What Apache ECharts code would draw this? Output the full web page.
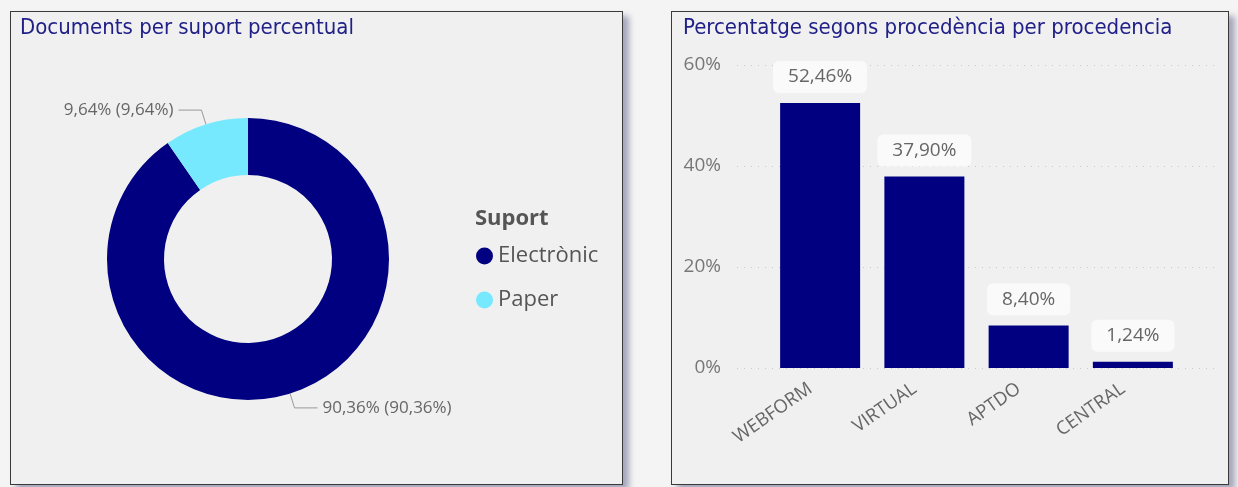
<!DOCTYPE html>
<html>
<head>
<meta charset="utf-8">
<script src="https://cdn.jsdelivr.net/npm/echarts@6/dist/echarts.min.js"></script>
<style>
  html, body { margin: 0; padding: 0; background: #f4f4f4; }
  body { width: 1238px; height: 487px; position: relative; overflow: hidden; }
  .panel { position: absolute; background: #f0f0f0; border: 1.5px solid #3a3a3a; box-sizing: border-box;
           box-shadow: 6px 5px 6px rgba(70, 70, 120, 0.45); }
  #chart { position: absolute; left: 0; top: 0; width: 1238px; height: 487px; }
</style>
</head>
<body>
<div class="panel" style="left:10px; top:11px; width:613px; height:474px;"></div>
<div class="panel" style="left:671px; top:11px; width:558px; height:474px;"></div>
<div id="chart"></div>
<script>
// Data
const supportCategories = ['Electrònic', 'Paper'];
const supportValues = [90.36, 9.64];
const originCategories = ['WEBFORM', 'VIRTUAL', 'APTDO', 'CENTRAL'];
const originValues = [52.46, 37.90, 8.40, 1.24];
const yTicks = [0, 20, 40, 60];

const NAVY = '#000080';
const CYAN = '#76e9fe';
const fmt = v => v.toFixed(2).replace('.', ',') + '%';
const labelFont = '"Open Sans", "Noto Sans", sans-serif';
const titleFont = '"DejaVu Sans Condensed", "DejaVu Sans", sans-serif';

const chart = echarts.init(document.getElementById('chart'), null, { renderer: 'canvas' });

const option = {
  backgroundColor: 'transparent',
  animation: false,
  title: [
    { text: 'Documents per suport percentual', left: 15, top: 12,
      textStyle: { color: '#202088', fontSize: 22, fontWeight: 'normal', fontFamily: titleFont } },
    { text: 'Percentatge segons procedència per procedencia', left: 678, top: 12,
      textStyle: { color: '#202088', fontSize: 22, fontWeight: 'normal', fontFamily: titleFont } },
    { text: 'Suport', left: 470, top: 203,
      textStyle: { color: '#555', fontSize: 22, fontWeight: 'bold', fontFamily: labelFont } }
  ],
  legend: {
    orient: 'vertical', left: 471, top: 240, itemGap: 22, itemSpacing: 5,
    icon: 'circle', itemWidth: 17, itemHeight: 17,
    data: supportCategories,
    textStyle: { color: '#555', fontSize: 22, fontFamily: labelFont }
  },
  grid: [
    { left: 737, right: 23, top: 65, bottom: 119 },
    { left: 768, width: 417, top: 65, bottom: 119 }
  ],
  xAxis: [
    { gridIndex: 0, type: 'category', data: originCategories, show: false },
    { gridIndex: 1, type: 'category', data: originCategories,
      axisLine: { show: false }, axisTick: { show: false },
      axisLabel: { rotate: 35, margin: 12, padding: [0, 12, 0, 0], color: '#666', fontSize: 18.5, fontFamily: labelFont } }
  ],
  yAxis: [
    { gridIndex: 0, type: 'value', min: yTicks[0], max: yTicks[yTicks.length - 1], interval: 20,
      axisLine: { show: false }, axisTick: { show: false },
      axisLabel: { margin: 16, color: '#777', fontSize: 19, fontFamily: labelFont, formatter: v => v + '%' },
      splitLine: { lineStyle: { color: '#c8c8c8', type: [1, 6], width: 1.2 } } },
    { gridIndex: 1, type: 'value', min: yTicks[0], max: yTicks[yTicks.length - 1], interval: 20, show: false,
      splitLine: { show: false } }
  ],
  series: [
    {
      type: 'pie',
      center: [248, 259],
      radius: [84, 141],
      startAngle: 90,
      clockwise: true,
      avoidLabelOverlap: false,
      data: supportCategories.map((n, i) => ({ name: n, value: supportValues[i],
        itemStyle: { color: i === 0 ? NAVY : CYAN } })),
      label: {
        show: true, position: 'outside', color: '#666', fontSize: 17, fontFamily: labelFont,
        formatter: p => fmt(p.value) + ' (' + fmt(p.value) + ')'
      },
      labelLine: { show: true, length: 15, length2: 23, lineStyle: { color: '#999', width: 1 } },
      emphasis: { disabled: true }
    },
    {
      type: 'bar',
      xAxisIndex: 1, yAxisIndex: 1,
      data: originValues,
      barWidth: 80,
      itemStyle: { color: NAVY },
      label: {
        show: true, position: 'top', distance: 10,
        formatter: p => fmt(p.value),
        color: '#666', fontSize: 19, lineHeight: 20, fontFamily: labelFont,
        backgroundColor: '#fafafa', borderRadius: 6, padding: [6, 15]
      }
    }
  ]
};
chart.setOption(option);
</script>
</body>
</html>
